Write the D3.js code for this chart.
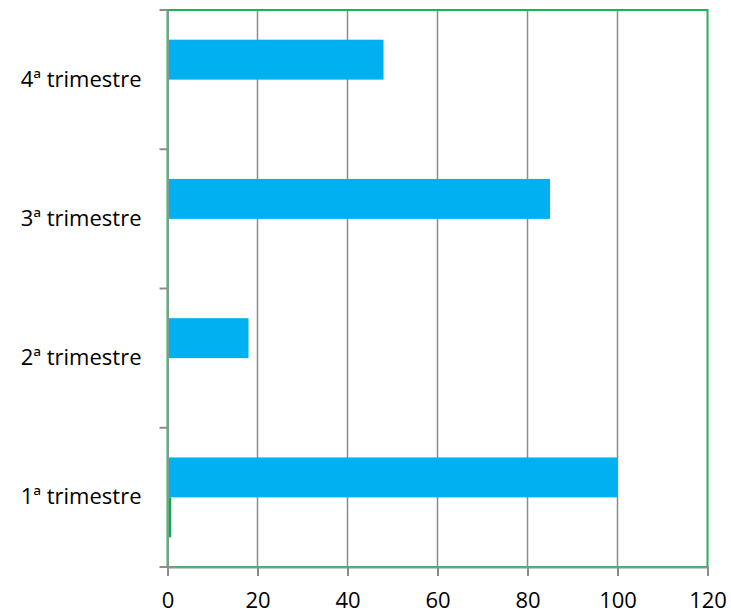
<!DOCTYPE html>
<html>
<head>
<meta charset="utf-8">
<script src="https://cdn.jsdelivr.net/npm/d3@7.9.0/dist/d3.min.js"></script>
<style>
  body { margin: 0; background: #fff; }
  svg { display: block; }
</style>
</head>
<body>
<div id="chart"></div>
<script>
const categories = ['1ª trimestre', '2ª trimestre', '3ª trimestre', '4ª trimestre'];
const seriesBlue = [100, 18, 85, 48];
const seriesGreen = [0.8, 0, 0, 0];
const xTicks = [0, 20, 40, 60, 80, 100, 120];

const width = 731;
const height = 614;
const margin = { top: 10, right: 23.5, bottom: 47, left: 167.5 };

const svg = d3.select('#chart')
  .append('svg')
  .attr('width', width)
  .attr('height', height);

const xScale = d3.scaleLinear()
  .domain([0, 120])
  .range([margin.left, width - margin.right]);

// categories run bottom to top
const yScale = d3.scaleBand()
  .domain(categories.slice().reverse())
  .range([margin.top, height - margin.bottom])
  .paddingInner(0);

const ySeries = d3.scaleBand()
  .domain(['blue', 'green'])
  .range([0, yScale.bandwidth()])
  .paddingInner(0)
  .paddingOuter(0.743);

const font = '"Open Sans", "Noto Sans", sans-serif';

// gridlines
svg.append('g')
  .selectAll('line')
  .data(xTicks.filter((d) => d > 0 && d < 120))
  .join('line')
  .attr('x1', (d) => xScale(d))
  .attr('x2', (d) => xScale(d))
  .attr('y1', margin.top)
  .attr('y2', height - margin.bottom)
  .attr('stroke', '#8c8c8c')
  .attr('stroke-width', 1.5);

// plot area border
svg.append('rect')
  .attr('x', margin.left)
  .attr('y', margin.top)
  .attr('width', xScale(120) - margin.left)
  .attr('height', height - margin.bottom - margin.top)
  .attr('fill', 'none')
  .attr('stroke', '#1fb25a')
  .attr('stroke-width', 2);

// bars
const rows = categories.map((c, i) => ({ cat: c, blue: seriesBlue[i], green: seriesGreen[i] }));

const groups = svg.append('g')
  .selectAll('g')
  .data(rows)
  .join('g')
  .attr('transform', (d) => `translate(0,${yScale(d.cat)})`);

groups.append('rect')
  .attr('x', xScale(0))
  .attr('y', ySeries('blue'))
  .attr('width', (d) => xScale(d.blue) - xScale(0))
  .attr('height', ySeries.bandwidth())
  .attr('fill', '#00b0f0');

groups.append('rect')
  .attr('x', xScale(0))
  .attr('y', ySeries('green'))
  .attr('width', (d) => xScale(d.green) - xScale(0))
  .attr('height', ySeries.bandwidth())
  .attr('fill', '#00b050');

// left axis
const yAxis = d3.axisLeft(yScale).tickSize(0).tickPadding(26);
const yG = svg.append('g')
  .attr('transform', `translate(${margin.left},0)`)
  .call(yAxis);
yG.select('.domain').attr('stroke', '#86998e').attr('stroke-width', 2);
yG.selectAll('text')
  .attr('font-family', font)
  .attr('font-size', 22)
  .attr('fill', '#000');

// category boundary ticks
const bounds = categories.map((c) => yScale(c)).concat([height - margin.bottom]);
svg.append('g')
  .selectAll('line')
  .data(bounds)
  .join('line')
  .attr('x1', margin.left - 8)
  .attr('x2', margin.left)
  .attr('y1', (d) => d)
  .attr('y2', (d) => d)
  .attr('stroke', '#8c8c8c')
  .attr('stroke-width', 2);

// bottom axis
const xAxis = d3.axisBottom(xScale)
  .tickValues(xTicks)
  .tickSize(9)
  .tickPadding(16);
const xG = svg.append('g')
  .attr('transform', `translate(0,${height - margin.bottom})`)
  .call(xAxis);
xG.select('.domain').attr('stroke', '#86998e').attr('stroke-width', 2);
xG.selectAll('.tick line').attr('stroke', '#8c8c8c').attr('stroke-width', 2);
xG.selectAll('text')
  .attr('font-family', font)
  .attr('font-size', 22)
  .attr('fill', '#000');
</script>
</body>
</html>
